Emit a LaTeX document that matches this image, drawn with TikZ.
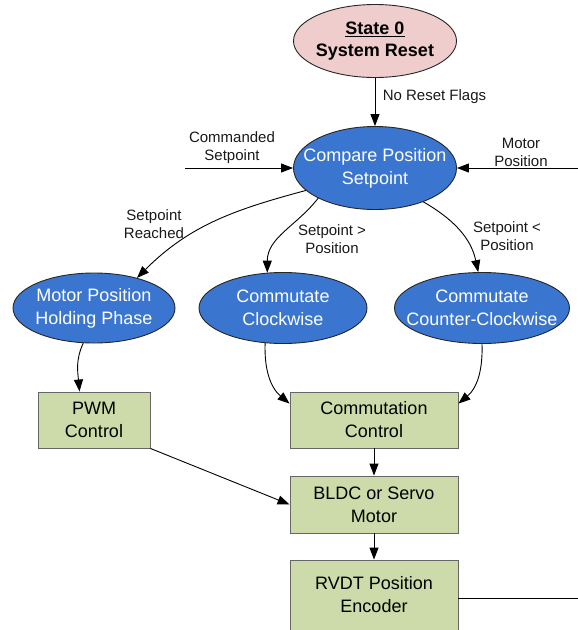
\documentclass[tikz,border=0pt]{standalone}
\usepackage{fontspec}
\setmainfont{Liberation Sans}
\usetikzlibrary{shapes.geometric,arrows.meta}
\definecolor{resetpink}{HTML}{EFCDCC}
\definecolor{stateblue}{HTML}{3A76D0}
\definecolor{blockgreen}{HTML}{CCDBA9}
\tikzset{
  statebox/.style={ellipse, draw=black!85, fill=stateblue, inner sep=0pt,
    minimum width=#1, minimum height=71pt},
  statetext/.style={text=white, align=center, font=\fontsize{18}{23}\selectfont},
  blockbox/.style={rectangle, draw=black!60, fill=blockgreen, align=center,
    minimum width=168pt, minimum height=56pt, font=\fontsize{18}{23}\selectfont},
  edgetext/.style={align=center, text=black!90, font=\fontsize{15}{18}\selectfont},
}
\begin{document}
\begin{tikzpicture}[x=1pt, y=-1pt, line width=0.9pt,
    >={Triangle[length=12pt,width=9pt]}]
  \useasboundingbox (0,0) rectangle (578,630);
  \def\Xl{94};
  \def\Xc{375};
  \def\Xr{482};
  \def\Ys{308}; % states row

        % reset and compare
        \node[statebox=163pt, fill=resetpink, minimum height=73pt,
          label={[statetext, text=black, font=\fontsize{18}{22}\bfseries]center:\underline{State 0}\\System Reset}]
          (reset) at (\Xc, 41) {};
        \node[statebox=163pt, minimum height=83pt,
          label={[statetext]center:Compare Position\\Setpoint}] (cmp) at (\Xc, 168) {};

        % states
        \node[statebox=162pt, minimum height=70pt,
          label={[statetext]center:Motor Position\\Holding Phase}] (hold) at (\Xl, \Ys) {};
        \node[statebox=168pt,
          label={[statetext]center:Commutate\\Clockwise}] (cw) at (283, \Ys) {};
        \node[statebox=175pt,
          label={[statetext]center:Commutate\\Counter-Clockwise}] (ccw) at (\Xr, \Ys) {};

        % blocks
        \node[blockbox, minimum width=112pt] (pwm) at (\Xl, 420) {PWM\\Control};
        \node[blockbox] (comm) at (374, 420) {Commutation\\Control};
        \node[blockbox, minimum height=57pt] (motor) at (374, 504.5) {BLDC or Servo\\Motor};
        \node[blockbox, minimum height=70pt] (rvdt) at (374, 595) {RVDT Position\\Encoder};

        % inputs
        \coordinate (cmdin) at (185, 168);
        \coordinate (posin) at (578, 168);
        \coordinate (posout) at (578, 598);
        \draw[->] (cmdin) -- (cmp.west);
        \node[edgetext] (cmdlbl) at (232, 148) {Commanded\\Setpoint};
        \draw[->] (posin) -- (cmp.east);
        \node[edgetext] (poslbl) at (521, 152) {Motor\\Position};
        \draw (rvdt.east |- posout) -- (posout);

	% transitions
	\draw[->] (reset) -- (cmp);
	\node[edgetext, anchor=west] (flaglbl) at (379, 97) {No Reset Flags};
	\draw[->] (cmp.198) to[out=195, in=45] (hold.35);
	\node[edgetext] (reachlbl) at (154, 224) {Setpoint\\Reached};
	\draw[->] (cmp.208) to[out=232, in=90] (cw.114);
	\node[edgetext] (gtlbl) at (332, 239) {Setpoint >\\Position};
	\draw[->] (cmp.-35) to[out=-30, in=102] (ccw.96);
	\node[edgetext] (ltlbl) at (507, 236) {Setpoint <\\Position};

        % outputs
        \draw[->] (hold.253) to[out=245, in=95] (pwm.117);
        \draw[->] (cw.243) to[out=268, in=140] (comm.169);
        \draw[->] (ccw.270) to[out=272, in=40] (comm.11);
        \draw[->] (pwm.south east) -- (motor.west);
        \draw[->] (comm) -- (motor);
        \draw[->] (motor) -- (rvdt);
\end{tikzpicture}
\end{document}
